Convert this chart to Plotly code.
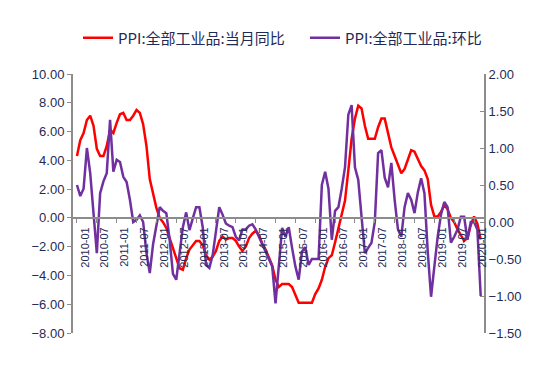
import plotly.graph_objects as go

# Monthly data, 2010-01 .. 2020-03
months = [f"{y}-{m:02d}" for y in range(2010, 2021) for m in range(1, 13)][:123]

ppi_yoy = [
    4.3, 5.4, 5.9, 6.8, 7.1, 6.4, 4.8, 4.3, 4.3, 5.0, 6.1, 5.9,
    6.6, 7.2, 7.3, 6.8, 6.8, 7.1, 7.5, 7.3, 6.5, 5.0, 2.7, 1.7,
    0.7, 0.0, -0.3, -0.7, -1.4, -2.1, -2.9, -3.5, -3.6, -2.8, -2.2, -1.9,
    -1.6, -1.6, -1.9, -2.6, -2.9, -2.7, -2.3, -1.6, -1.3, -1.5, -1.4, -1.4,
    -1.6, -2.0, -2.3, -2.0, -1.4, -1.1, -0.9, -1.2, -1.8, -2.2, -2.7, -3.3,
    -4.3, -4.8, -4.6, -4.6, -4.6, -4.8, -5.4, -5.9, -5.9, -5.9, -5.9, -5.9,
    -5.3, -4.9, -4.3, -3.4, -2.8, -2.6, -1.7, -0.8, 0.1, 1.2, 3.3, 5.5,
    6.9, 7.8, 7.6, 6.4, 5.5, 5.5, 5.5, 6.3, 6.9, 6.9, 5.8, 4.9,
    4.3, 3.7, 3.1, 3.4, 4.1, 4.7, 4.6, 4.1, 3.6, 3.3, 2.7, 0.9,
    0.1, 0.1, 0.4, 0.9, 0.6, 0.0, -0.3, -0.8, -1.2, -1.6, -1.4, -0.5,
    0.1, -0.4, -1.5,
]

ppi_mom = [
    0.5, 0.35, 0.45, 1.0, 0.66, 0.07, -0.42, 0.39, 0.55, 0.66, 1.38, 0.68,
    0.84, 0.81, 0.61, 0.54, 0.3, 0.0, 0.03, 0.09, 0.0, -0.42, -0.69, -0.3,
    -0.07, 0.2, 0.15, 0.12, -0.24, -0.7, -0.78, -0.45, -0.07, 0.13, -0.11, 0.05,
    0.2, 0.2, -0.07, -0.58, -0.62, -0.45, -0.1, 0.2, 0.1, -0.02, -0.05, -0.07,
    -0.2, -0.25, -0.1, -0.1, -0.05, -0.03, -0.1, -0.2, -0.3, -0.4, -0.5, -0.6,
    -1.1, -0.6, -0.08, -0.2, -0.07, -0.35, -0.6, -0.78, -0.4, -0.34, -0.58, -0.5,
    -0.5, -0.5, 0.5, 0.68, 0.45, -0.24, 0.15, 0.2, 0.45, 0.74, 1.45, 1.58,
    0.74, 0.57, 0.07, -0.42, -0.35, -0.28, 0.0, 0.93, 0.97, 0.6, 0.47, 0.8,
    0.3, -0.1, -0.2, 0.2, 0.39, 0.3, 0.12, 0.4, 0.59, 0.39, -0.4, -1.01,
    -0.6, -0.2, 0.1, 0.27, 0.2, -0.28, -0.2, -0.1, 0.07, 0.07, -0.24, 0.0,
    0.0, -0.1, -1.0,
]

label_months = months[::6]
left_ticks = [-8, -6, -4, -2, 0, 2, 4, 6, 8, 10]
right_ticks = [-1.5, -1.0, -0.5, 0.0, 0.5, 1.0, 1.5, 2.0]

idx = list(range(len(months)))
label_idx = idx[::6]

NAVY = "#1f2b57"
GREY = "#8c8c8c"
FONT = "Liberation Sans, Noto Sans CJK SC, sans-serif"
LEGEND_FONT = dict(size=15, color=NAVY, family="Noto Sans CJK SC, sans-serif")

fig = go.Figure()
fig.add_trace(go.Scatter(
    x=idx, y=ppi_yoy, mode="lines", name="PPI:全部工业品:当月同比",
    line=dict(color="#ff0000", width=2.5), yaxis="y",
    customdata=months, legend="legend",
))
fig.add_trace(go.Scatter(
    x=idx, y=ppi_mom, mode="lines", name="PPI:全部工业品:环比",
    line=dict(color="#7030a0", width=2.5), yaxis="y2",
    customdata=months, legend="legend2",
))

fig.update_layout(
    width=550, height=368,
    margin=dict(l=65, r=74, t=66, b=43),
    paper_bgcolor="white", plot_bgcolor="white",
    font=dict(family=FONT, color=NAVY, size=13),
    showlegend=True,
    legend=dict(
        orientation="h", xref="container", yref="container",
        x=70 / 550, xanchor="left", y=1 - 30 / 368, yanchor="middle",
        font=LEGEND_FONT, bgcolor="rgba(0,0,0,0)", itemwidth=30,
    ),
    legend2=dict(
        orientation="h", xref="container", yref="container",
        x=297 / 550, xanchor="left", y=1 - 30 / 368, yanchor="middle",
        font=LEGEND_FONT, bgcolor="rgba(0,0,0,0)", itemwidth=30,
    ),
    xaxis=dict(
        range=[-1.2, 123], anchor="free", position=8 / 18,
        showgrid=False, zeroline=False,
        showline=True, linecolor=GREY, linewidth=2,
        tickmode="array", tickvals=label_idx, ticktext=label_months,
        tickangle=-90, ticks="outside", ticklen=4, tickcolor=GREY, tickwidth=1,
        tickfont=dict(size=11, color=NAVY),
        ticklabelshift=8,
    ),
    yaxis=dict(
        range=[-8, 10], tickmode="array", tickvals=left_ticks, tickformat=".2f",
        showgrid=False, zeroline=False,
        showline=True, linecolor=GREY, linewidth=2,
        ticks="outside", ticklen=4, tickcolor=GREY,
        tickfont=dict(size=13, color=NAVY),
    ),
    yaxis2=dict(
        range=[-1.5, 2.0], overlaying="y", side="right",
        tickmode="array", tickvals=right_ticks, tickformat=".2f",
        showgrid=False, zeroline=False,
        showline=True, linecolor=GREY, linewidth=2,
        ticks="inside", ticklen=4, tickcolor=GREY,
        tickfont=dict(size=13, color=NAVY),
    ),
)

fig.write_html("out.html")
